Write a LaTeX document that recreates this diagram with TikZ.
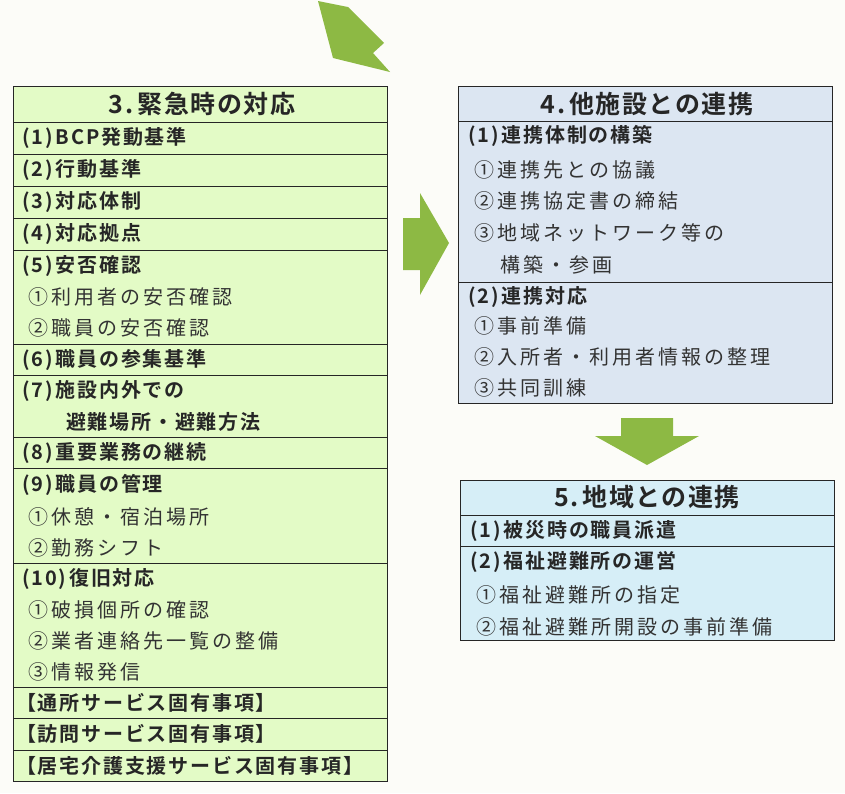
\documentclass[tikz,border=0pt]{standalone}
\usepackage{fontspec}
\setmainfont{Noto Sans CJK JP}
\newfontfamily\jpb[LetterSpace=9]{Noto Sans CJK JP Bold}
\newfontfamily\jpt[LetterSpace=6]{Noto Sans CJK JP Bold}
\newfontfamily\jps[LetterSpace=15]{Noto Sans CJK JP}
\definecolor{gfill}{HTML}{E3FBC6}
\definecolor{bfill}{HTML}{DCE6F2}
\definecolor{cfill}{HTML}{D6EEF7}
\definecolor{arr}{HTML}{8DB944}
\definecolor{bg}{HTML}{FCFCF8}
\begin{document}
\begin{tikzpicture}[x=1pt,y=-1pt,
  cell/.style={draw=black!85,line width=0.9pt},
  hd/.style={anchor=center,font=\jpt\fontsize{25}{25}\selectfont,text=black!85},
  it/.style={anchor=west,font=\jpb\fontsize{20}{20}\selectfont,text=black!85,inner sep=0},
  sub/.style={anchor=west,font=\jps\fontsize{20}{20}\selectfont,text=black!80,inner sep=0}]
\fill[bg] (0,0) rectangle (845,793);
\useasboundingbox (0,0) rectangle (845,793);
% arrows
\fill[arr] (318,1)--(348,7)--(384,43)--(373,53)--(390,72)--(333,58)--cycle;
\fill[arr] (403,218)--(420,218)--(420,193)--(449,243)--(420,295)--(420,270)--(403,270)--cycle;
\fill[arr] (621,418)--(673,418)--(673,436)--(699,436)--(647,465)--(595,436)--(621,436)--cycle;
% left box
\foreach \a/\b in {86/122,122/154,154/186,186/218,218/250,250/344,344/375,375/437,437/468,468/563,563/687,687/718,718/750,750/781}
  \draw[cell,fill=gfill] (13,\a) rectangle (387,\b);
\node[hd] (t3) at (202,104) {3.\,緊急時の対応};
\node[it] (a1) at (22,138) {(1)\hspace{3pt}BCP発動基準};
\node[it] (a2) at (22,170) {(2)\hspace{3pt}行動基準};
\node[it] (a3) at (22,202) {(3)\hspace{3pt}対応体制};
\node[it] (a4) at (22,234) {(4)\hspace{3pt}対応拠点};
\node[it] (a5) at (22,266) {(5)\hspace{3pt}安否確認};
\node[sub] (a51) at (28,297) {①利用者の安否確認};
\node[sub] (a52) at (28,328) {②職員の安否確認};
\node[it] (a6) at (22,360) {(6)\hspace{3pt}職員の参集基準};
\node[it] (a7) at (22,391) {(7)\hspace{3pt}施設内外での};
\node[it] (a7b) at (66,422) {避難場所・避難方法};
\node[it] (a8) at (22,453) {(8)\hspace{3pt}重要業務の継続};
\node[it] (a9) at (22,485) {(9)\hspace{3pt}職員の管理};
\node[sub] (a91) at (28,517) {①休憩・宿泊場所};
\node[sub] (a92) at (28,548) {②勤務シフト};
\node[it] (a10) at (22,579) {(10)\hspace{3pt}復旧対応};
\node[sub] (a101) at (28,610) {①破損個所の確認};
\node[sub] (a102) at (28,641) {②業者連絡先一覧の整備};
\node[sub] (a103) at (28,672) {③情報発信};
\node[it] (a11) at (16,703) {【通所サービス固有事項】};
\node[it] (a12) at (16,734) {【訪問サービス固有事項】};
\node[it] (a13) at (16,766) {【居宅介護支援サービス固有事項】};
% box 4
\foreach \a/\b in {86/121,121/282,282/403}
  \draw[cell,fill=bfill] (458,\a) rectangle (832,\b);
\node[hd] (t4) at (647,104) {4.\,他施設との連携};
\node[it] (b1) at (468,136) {(1)\hspace{3pt}連携体制の構築};
\node[sub] (b11) at (474,170) {①連携先との協議};
\node[sub] (b12) at (474,201) {②連携協定書の締結};
\node[sub] (b13) at (474,233) {③地域ネットワーク等の};
\node[sub] (b13b) at (500,265) {構築・参画};
\node[it] (b2) at (468,297) {(2)\hspace{3pt}連携対応};
\node[sub] (b21) at (474,326) {①事前準備};
\node[sub] (b22) at (474,357) {②入所者・利用者情報の整理};
\node[sub] (b23) at (474,388) {③共同訓練};
% box 5
\foreach \a/\b in {480/515,515/546,546/640}
  \draw[cell,fill=cfill] (460,\a) rectangle (834,\b);
\node[hd] (t5) at (647,497) {5.\,地域との連携};
\node[it] (c1) at (470,531) {(1)\hspace{3pt}被災時の職員派遣};
\node[it] (c2) at (470,562) {(2)\hspace{3pt}福祉避難所の運営};
\node[sub] (c21) at (476,595) {①福祉避難所の指定};
\node[sub] (c22) at (476,627) {②福祉避難所開設の事前準備};
\end{tikzpicture}
\end{document}
